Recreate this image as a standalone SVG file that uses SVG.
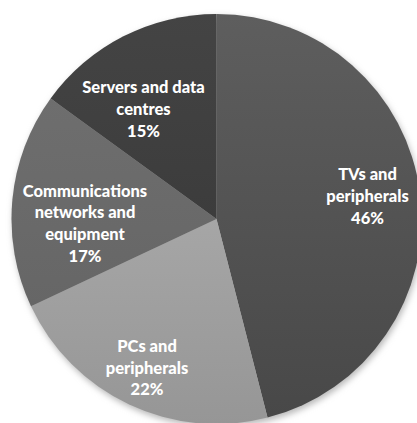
<svg xmlns="http://www.w3.org/2000/svg" width="417" height="423" viewBox="0 0 417 423">
  <defs>
    <linearGradient id="gTV" x1="0" y1="0" x2="0" y2="1">
      <stop offset="0" stop-color="#5e5e5e"/>
      <stop offset="1" stop-color="#484848"/>
    </linearGradient>
    <linearGradient id="gPC" x1="0" y1="0" x2="0" y2="1">
      <stop offset="0" stop-color="#a6a6a6"/>
      <stop offset="1" stop-color="#969696"/>
    </linearGradient>
    <linearGradient id="gCom" x1="0" y1="0" x2="0" y2="1">
      <stop offset="0" stop-color="#6e6e6e"/>
      <stop offset="1" stop-color="#666666"/>
    </linearGradient>
    <linearGradient id="gSrv" x1="0" y1="0" x2="0" y2="1">
      <stop offset="0" stop-color="#444444"/>
      <stop offset="1" stop-color="#3c3c3c"/>
    </linearGradient>
    <filter id="soft" x="-10%" y="-10%" width="120%" height="120%">
      <feGaussianBlur stdDeviation="3"/>
    </filter>
  </defs>
  <style>
    .lbl { font-family: Lato, "Liberation Sans", sans-serif; font-weight: 900; font-size: 16.5px; fill: #ffffff; text-anchor: middle; }
  </style>
  <rect width="417" height="423" fill="#ffffff"/>

  <!-- soft drop shadow under the pie -->
  <circle cx="218" cy="222" r="205" fill="#b8b8b8" filter="url(#soft)"/>

  <g id="slice-tvs">
    <path d="M216.5 219 L216.5 14 A205 205 0 0 1 267.5 417.6 Z" fill="url(#gTV)"/>
    <text class="lbl" x="367.5" y="180">TVs and</text>
    <text class="lbl" x="367.5" y="202">peripherals</text>
    <text class="lbl" x="367.5" y="224">46%</text>
  </g>

  <g id="slice-pcs">
    <path d="M216.5 219 L267.5 417.6 A205 205 0 0 1 31 306.3 Z" fill="url(#gPC)"/>
    <text class="lbl" x="147" y="352">PCs and</text>
    <text class="lbl" x="147" y="374">peripherals</text>
    <text class="lbl" x="147" y="395">22%</text>
  </g>

  <g id="slice-comms">
    <path d="M216.5 219 L31 306.3 A205 205 0 0 1 50.6 98.5 Z" fill="url(#gCom)"/>
    <text class="lbl" x="85" y="197">Communications</text>
    <text class="lbl" x="85" y="218">networks and</text>
    <text class="lbl" x="85" y="240">equipment</text>
    <text class="lbl" x="85" y="262">17%</text>
  </g>

  <g id="slice-servers">
    <path d="M216.5 219 L50.6 98.5 A205 205 0 0 1 216.5 14 Z" fill="url(#gSrv)"/>
    <text class="lbl" x="143.5" y="93">Servers and data</text>
    <text class="lbl" x="143.5" y="115">centres</text>
    <text class="lbl" x="143.5" y="137">15%</text>
  </g>

  <g id="connectors"/>
</svg>
